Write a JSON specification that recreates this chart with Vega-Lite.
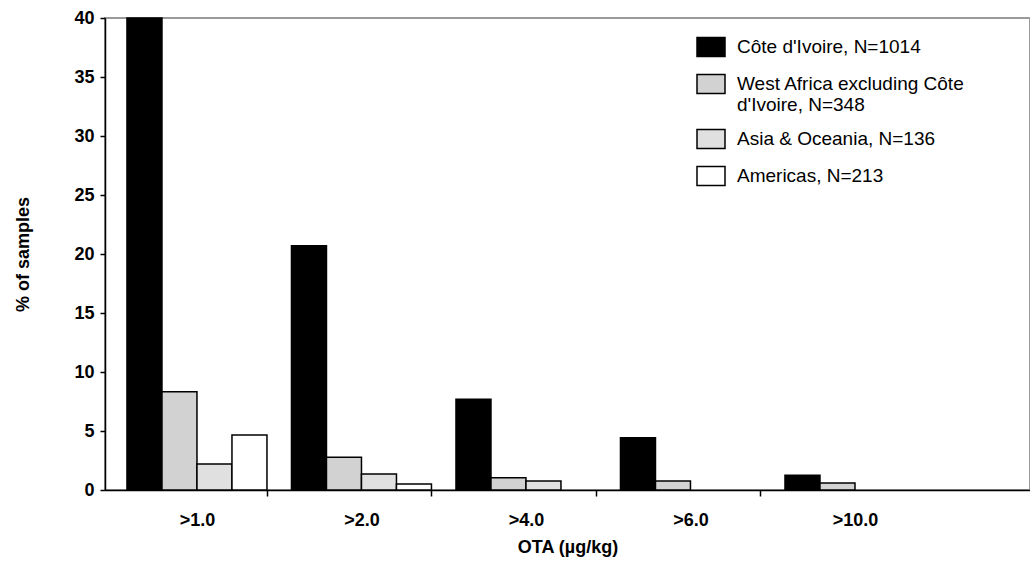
{
  "$schema": "https://vega.github.io/schema/vega-lite/v6.json",
  "width": 925,
  "height": 472,
  "autosize": {"type": "none"},
  "padding": {"left": 105, "top": 18, "right": 0, "bottom": 85},
  "background": "white",
  "config": {
    "font": "Liberation Sans",
    "view": {"stroke": "#9a9a9a", "strokeWidth": 2}
  },
  "data": {
    "values": [
      {"cat": ">1.0", "region": "Côte d'Ivoire, N=1014", "pct": 40},
      {"cat": ">1.0", "region": "West Africa excluding Côte d'Ivoire, N=348", "pct": 8.33},
      {"cat": ">1.0", "region": "Asia & Oceania, N=136", "pct": 2.2},
      {"cat": ">1.0", "region": "Americas, N=213", "pct": 4.66},
      {"cat": ">2.0", "region": "Côte d'Ivoire, N=1014", "pct": 20.7},
      {"cat": ">2.0", "region": "West Africa excluding Côte d'Ivoire, N=348", "pct": 2.77},
      {"cat": ">2.0", "region": "Asia & Oceania, N=136", "pct": 1.36},
      {"cat": ">2.0", "region": "Americas, N=213", "pct": 0.5},
      {"cat": ">4.0", "region": "Côte d'Ivoire, N=1014", "pct": 7.7},
      {"cat": ">4.0", "region": "West Africa excluding Côte d'Ivoire, N=348", "pct": 1.04},
      {"cat": ">4.0", "region": "Asia & Oceania, N=136", "pct": 0.76},
      {"cat": ">6.0", "region": "Côte d'Ivoire, N=1014", "pct": 4.43},
      {"cat": ">6.0", "region": "West Africa excluding Côte d'Ivoire, N=348", "pct": 0.76},
      {"cat": ">10.0", "region": "Côte d'Ivoire, N=1014", "pct": 1.25},
      {"cat": ">10.0", "region": "West Africa excluding Côte d'Ivoire, N=348", "pct": 0.59}
    ]
  },
  "mark": {"type": "bar", "stroke": "black", "strokeWidth": 1.5, "strokeJoin": "miter"},
  "encoding": {
    "x": {
      "field": "cat",
      "type": "nominal",
      "sort": [">1.0", ">2.0", ">4.0", ">6.0", ">10.0"],
      "scale": {"paddingInner": 0.149, "paddingOuter": 0.386, "align": 0.173},
      "axis": {
        "title": "OTA (µg/kg)",
        "titleFont": "Liberation Sans",
        "titleFontSize": 18,
        "titleFontWeight": "bold",
        "titleColor": "black",
        "titleY": 48,
        "labelAngle": 0,
        "labelFont": "Liberation Sans",
        "labelFontSize": 18,
        "labelFontWeight": "bold",
        "labelColor": "black",
        "labelPadding": 15,
        "domainColor": "black",
        "domainWidth": 1.5,
        "tickColor": {"condition": {"test": "datum.value === '>10.0' || !isValid(datum.value)", "value": "transparent"}, "value": "black"},
        "tickWidth": 1.5,
        "tickSize": 6,
        "tickBand": "extent"
      }
    },
    "xOffset": {
      "field": "region",
      "type": "nominal",
      "sort": ["Côte d'Ivoire, N=1014", "West Africa excluding Côte d'Ivoire, N=348", "Asia & Oceania, N=136", "Americas, N=213"],
      "scale": {"paddingInner": 0, "paddingOuter": 0}
    },
    "y": {
      "field": "pct",
      "type": "quantitative",
      "scale": {"domain": [0, 40], "nice": false},
      "axis": {
        "title": "% of samples",
        "titleFont": "Liberation Sans",
        "titleFontSize": 18,
        "titleFontWeight": "bold",
        "titleColor": "black",
        "titlePadding": 41,
        "values": [0, 5, 10, 15, 20, 25, 30, 35, 40],
        "grid": false,
        "labelFont": "Liberation Sans",
        "labelFontSize": 18,
        "labelFontWeight": "bold",
        "labelColor": "black",
        "labelPadding": 6,
        "domainColor": "black",
        "domainWidth": 1.5,
        "tickColor": "black",
        "tickWidth": 1.5,
        "tickSize": 5
      }
    },
    "fill": {
      "field": "region",
      "type": "nominal",
      "sort": ["Côte d'Ivoire, N=1014", "West Africa excluding Côte d'Ivoire, N=348", "Asia & Oceania, N=136", "Americas, N=213"],
      "scale": {
        "domain": ["Côte d'Ivoire, N=1014", "West Africa excluding Côte d'Ivoire, N=348", "Asia & Oceania, N=136", "Americas, N=213"],
        "range": ["#000000", "#d2d2d2", "#e0e0e0", "#ffffff"]
      },
      "legend": {
        "title": null,
        "orient": "none",
        "legendX": 591,
        "legendY": 14,
        "symbolType": "M-1,-0.68L1,-0.68L1,0.68L-1,0.68Z",
        "symbolSize": 784,
        "symbolStrokeColor": "black",
        "symbolStrokeWidth": 1.5,
        "symbolOpacity": 1,
        "labelFont": "Liberation Sans",
        "labelFontSize": 19,
        "labelColor": "black",
        "labelLimit": 400,
        "labelOffset": 11,
        "rowPadding": 9,
        "labelExpr": "datum.label == \"West Africa excluding Côte d'Ivoire, N=348\" ? ['West Africa excluding Côte', \"d'Ivoire, N=348\"] : datum.label"
      }
    }
  }
}
